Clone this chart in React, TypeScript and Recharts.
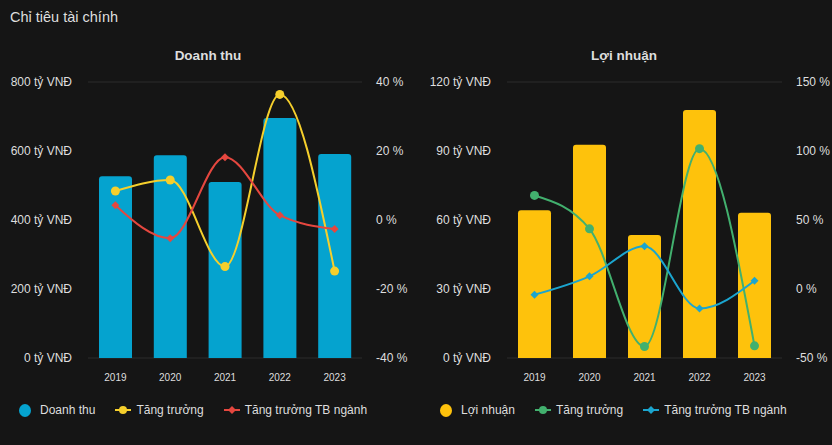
import * as React from 'react';
import { ComposedChart, Bar, Line, XAxis, YAxis, CartesianGrid } from 'recharts';

const years = ['2019', '2020', '2021', '2022', '2023'];

// Doanh thu (tỷ VNĐ) and growth (%)
const revenue = [527, 588, 510, 696, 591];
const revenueGrowth = [8.4, 11.6, -13.5, 36.4, -14.8];
const revenueIndustry = [4.3, -5.3, 18.2, 1.4, -2.6];

// Lợi nhuận (tỷ VNĐ) and growth (%)
const profit = [64.2, 92.7, 53.5, 107.8, 63.1];
const profitGrowth = [67.8, 43.6, -41.7, 101.7, -41.2];
const profitIndustry = [-4.1, 9.2, 30.9, -14.1, 6.0];

const revenueTicks = [0, 200, 400, 600, 800];
const revenuePctTicks = [-40, -20, 0, 20, 40];
const profitTicks = [0, 30, 60, 90, 120];
const profitPctTicks = [-50, 0, 50, 100, 150];

const FONT = '"Liberation Sans", Arial, sans-serif';
const BG = '#151515';
const TEXT = '#dedede';
const GRID = '#2c2c2c';

interface PanelProps {
  title: string;
  barName: string;
  barColor: string;
  growthColor: string;
  industryColor: string;
  bars: number[];
  growth: number[];
  industry: number[];
  ticks: number[];
  pctTicks: number[];
  leftWidth: number;
  rightWidth: number;
  legendLeft: number;
}

const Diamond = (props: any) => {
  const { cx, cy, stroke } = props;
  if (cx == null || cy == null) return null;
  const s = 4;
  return <polygon points={`${cx},${cy - s} ${cx + s},${cy} ${cx},${cy + s} ${cx - s},${cy}`} fill={stroke} />;
};

function LegendLine({ color, diamond }: { color: string; diamond?: boolean }) {
  return (
    <svg width={16} height={10} style={{ marginRight: 5 }}>
      <line x1={0} y1={5} x2={16} y2={5} stroke={color} strokeWidth={2} />
      {diamond ? <polygon points="8,1 12,5 8,9 4,5" fill={color} /> : <circle cx={8} cy={5} r={4} fill={color} />}
    </svg>
  );
}

function Panel(p: PanelProps) {
  const data = years.map((y, i) => ({ year: y, value: p.bars[i], growth: p.growth[i], industry: p.industry[i] }));
  const max = p.ticks[p.ticks.length - 1];
  return (
    <div style={{ position: 'relative', width: 416, height: 445 }}>
      <div style={{ position: 'absolute', top: 48, width: 416, textAlign: 'center', fontWeight: 'bold', fontSize: 13.5, color: TEXT }}>
        {p.title}
      </div>
      <div style={{ position: 'absolute', top: 40 }}>
        <ComposedChart width={416} height={360} data={data} margin={{ top: 42, right: 0, bottom: 0, left: 0 }}>
          <CartesianGrid vertical={false} stroke={GRID} />
          <XAxis
            dataKey="year"
            axisLine={false}
            tickLine={false}
            tickSize={0}
            tickMargin={16}
            height={42}
            tick={{ fill: TEXT, fontSize: 10, fontFamily: FONT }}
          />
          <YAxis
            yAxisId="left"
            width={p.leftWidth}
            domain={[0, max]}
            ticks={p.ticks}
            axisLine={false}
            tickLine={false}
            tickSize={0}
            tickMargin={16}
            tickFormatter={(v: number) => `${v} tỷ VNĐ`}
            tick={{ fill: TEXT, fontSize: 12, fontFamily: FONT }}
          />
          <YAxis
            yAxisId="right"
            orientation="right"
            width={p.rightWidth}
            domain={[p.pctTicks[0], p.pctTicks[p.pctTicks.length - 1]]}
            ticks={p.pctTicks}
            axisLine={false}
            tickLine={false}
            tickSize={0}
            tickMargin={14}
            tickFormatter={(v: number) => `${v} %`}
            tick={{ fill: TEXT, fontSize: 12, fontFamily: FONT, textAnchor: 'start' }}
          />
          <Bar yAxisId="left" dataKey="value" name={p.barName} fill={p.barColor} barSize={33} radius={[3, 3, 0, 0]} isAnimationActive={false} />
          <Line
            yAxisId="right"
            dataKey="growth"
            type="monotone"
            stroke={p.growthColor}
            strokeWidth={2}
            dot={{ r: 4.5, fill: p.growthColor, stroke: p.growthColor, strokeWidth: 0 }}
            activeDot={false}
            isAnimationActive={false}
          />
          <Line
            yAxisId="right"
            dataKey="industry"
            type="monotone"
            stroke={p.industryColor}
            strokeWidth={2}
            dot={<Diamond />}
            activeDot={false}
            isAnimationActive={false}
          />
        </ComposedChart>
      </div>
      <div
        style={{
          position: 'absolute',
          top: 403,
          left: p.legendLeft,
          display: 'flex',
          alignItems: 'center',
          fontSize: 12,
          color: TEXT,
          whiteSpace: 'nowrap',
        }}
      >
        <span style={{ display: 'inline-block', width: 12, height: 13, borderRadius: '50%', background: p.barColor, marginRight: 9 }} />
        <span style={{ marginRight: 20 }}>{p.barName}</span>
        <LegendLine color={p.growthColor} />
        <span style={{ marginRight: 20 }}>Tăng trưởng</span>
        <LegendLine color={p.industryColor} diamond />
        <span>Tăng trưởng TB ngành</span>
      </div>
    </div>
  );
}

export default function App() {
  return (
    <div style={{ position: 'absolute', left: 0, top: 0, width: 832, height: 445, background: BG, fontFamily: FONT, overflow: 'hidden' }}>
      <div style={{ position: 'absolute', left: 10, top: 9, fontSize: 14.5, color: TEXT }}>Chỉ tiêu tài chính</div>
      <div style={{ position: 'absolute', left: 0, top: 0, display: 'flex' }}>
        <Panel
          title="Doanh thu"
          barName="Doanh thu"
          barColor="#05a3cf"
          growthColor="#f5cf2c"
          industryColor="#e5473f"
          bars={revenue}
          growth={revenueGrowth}
          industry={revenueIndustry}
          ticks={revenueTicks}
          pctTicks={revenuePctTicks}
          leftWidth={88}
          rightWidth={54}
          legendLeft={19}
        />
        <Panel
          title="Lợi nhuận"
          barName="Lợi nhuận"
          barColor="#fec20c"
          growthColor="#42b06e"
          industryColor="#1ba5cf"
          bars={profit}
          growth={profitGrowth}
          industry={profitIndustry}
          ticks={profitTicks}
          pctTicks={profitPctTicks}
          leftWidth={91}
          rightWidth={50}
          legendLeft={24}
        />
      </div>
    </div>
  );
}
